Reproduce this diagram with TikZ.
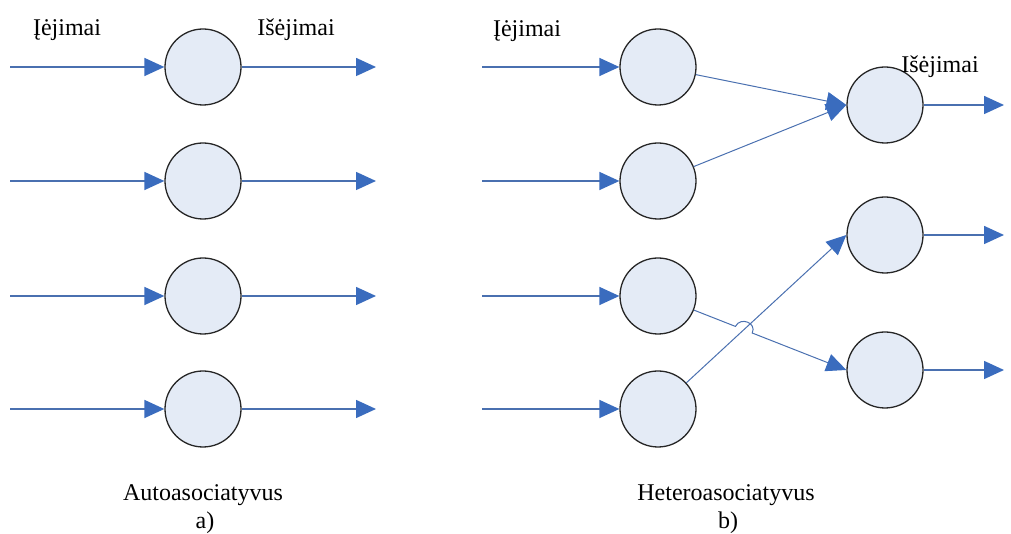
\documentclass[tikz,border=0pt]{standalone}
\usepackage{fontspec}
\setmainfont{Liberation Serif}
\usetikzlibrary{arrows.meta,calc,intersections}
\definecolor{cellfill}{RGB}{228,235,246}
\definecolor{wire}{RGB}{74,112,176}
\definecolor{tipblue}{RGB}{58,108,190}
\begin{document}
\begin{tikzpicture}[x=1pt,y=1pt,
  cell/.style={circle,draw=black!85,line width=1.3pt,fill=cellfill,minimum size=76pt,inner sep=0pt},
  wire/.style={draw=wire,line width=1.5pt,-{Triangle[length=20pt,width=18pt,color=tipblue,fill=tipblue]}},
  thinwire/.style={wire,line width=1pt},
  lbl/.style={font=\fontsize{24}{26}\selectfont,inner sep=0pt},
  caption/.style={font=\fontsize{24}{26}\selectfont,inner sep=0pt}]
\useasboundingbox (0,0) rectangle (1011,534);

% a) auto-association: each input feeds its own cell
\foreach \i/\y in {1/467,2/353,3/238,4/125} {
  \node[cell] (a\i) at (203,\y) {};
  \coordinate (ain\i) at (10,\y);
  \coordinate (aout\i) at (376,\y);
  \draw[wire] (ain\i) -- (a\i);
  \draw[wire] (a\i) -- (aout\i);
}
\node[lbl] (ainlbl) at (67,504) {Įėjimai};
\node[lbl] (aoutlbl) at (296,504) {Išėjimai};
\node[caption] (acap) at (203,39) {Autoasociatyvus};
\node[caption] (atag) at (205,11) {a)};

% b) hetero-association: input cells mapped onto output cells
\foreach \i/\y in {1/467,2/353,3/238,4/125} {
  \node[cell] (b\i) at (658,\y) {};
  \coordinate (bin\i) at (482,\y);
  \draw[wire] (bin\i) -- (b\i);
}
\foreach \i/\y in {1/429,2/299,3/164} {
  \node[cell] (c\i) at (885,\y) {};
  \coordinate (cout\i) at (1004,\y);
  \draw[wire] (c\i) -- (cout\i);
}
\draw[thinwire] (b1) -- (c1.west);
\draw[thinwire] (b2) -- (c1.west);
\draw[thinwire] (b4) -- (c2.west);
% crossing wire with a small hop over the rising one
\path[name path=rise] (b4.center) -- (c2.west);
\path[name path=fall] (b3.center) -- (c3.west);
\path[name intersections={of=rise and fall, by=X}];
\draw[thinwire] (b3) -- ($(X)!9pt!(b3.center)$)
  to[out=64,in=64,looseness=1.6] ($(X)!9pt!(c3.west)$) -- (c3.west);

\node[lbl] (binlbl) at (527,503) {Įėjimai};
\node[lbl] (boutlbl) at (940,467) {Išėjimai};
\node[caption] (bcap) at (726,39) {Heteroasociatyvus};
\node[caption] (btag) at (728,11) {b)};
\end{tikzpicture}
\end{document}
